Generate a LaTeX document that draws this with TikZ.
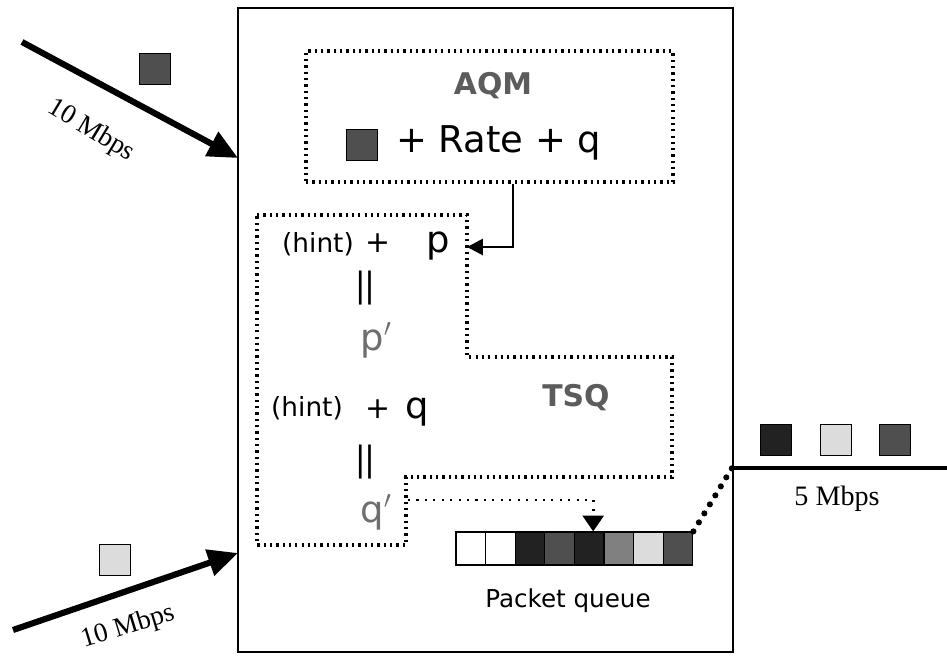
\documentclass[tikz,border=0pt]{standalone}
\usepackage{fontspec}
\setmainfont{Liberation Serif}
\newfontfamily\comicfont{DejaVu Sans}
\newfontfamily\barfont{Liberation Sans}
\usetikzlibrary{arrows.meta,positioning}

\definecolor{pktdark}{HTML}{222222}
\definecolor{pktmid}{HTML}{4F4F4F}
\definecolor{pktgray}{HTML}{808080}
\definecolor{pktlight}{HTML}{DCDCDC}
\definecolor{labelgray}{HTML}{5C5C5C}
\definecolor{primegray}{HTML}{6E6E6E}

\tikzset{
  pkt/.style={draw=black, line width=0.7pt, minimum size=0.62cm, inner sep=0pt},
  qcell/.style={draw=black, line width=0.7pt, minimum width=0.592cm, minimum height=0.66cm, inner sep=0pt},
  dotbox/.style={line width=1.8pt, dash pattern=on 1.3pt off 2.3pt},
  inlink/.style={line width=3.5pt, -{Triangle[length=17pt,width=15pt]}},
  rate/.style={font=\fontsize{15.5}{15.5}\selectfont, rotate=#1},
  eq/.style={font=\comicfont\fontsize{17}{17}\selectfont},
  eqbar/.style={font=\barfont\fontsize{21}{21}\selectfont, rotate=90, inner sep=0pt},
}

\begin{document}
\begin{tikzpicture}[x=0.02cm, y=-0.02cm]
    \useasboundingbox (0,0) rectangle (947,656);

    % Router
    \draw[line width=0.9pt] (238,8) rectangle (733,652);

    % Input links
    \coordinate (srcA) at (22,42);
    \coordinate (inA) at (238,158);
    \coordinate (srcB) at (13,630);
    \coordinate (inB) at (238,553);
    \draw[inlink] (srcA) -- (inA);
    \draw[inlink] (srcB) -- (inB);
    \node[pkt, fill=pktmid] (pktA) at (155,69) {};
    \node[pkt, fill=pktlight] (pktB) at (115,560) {};
    \node[rate=-31] (rateA) at (91,131) {10 Mbps};
    \node[rate=17] (rateB) at (128,627) {10 Mbps};

    % AQM
    \node[dotbox, draw, minimum width=7.34cm, minimum height=2.62cm] (aqm) at (489.5,116.5) {};
    \node[font=\comicfont\bfseries\fontsize{17}{17}\selectfont, text=labelgray] (aqmlabel) at (493,86) {AQM};
    \node[pkt, fill=pktmid] (pktC) at (362,145) {};
    \node[eq, font=\comicfont\fontsize{21}{21}\selectfont, anchor=base west, inner sep=0pt] (aqmrow) at (396,152) {+ Rate + q};

    % TSQ
    \draw[dotbox] (257,215) -- (467,215) -- (467,357) -- (672,357) -- (672,477)
        -- (406,477) -- (406,545) -- (257,545) -- cycle;
    \node[font=\comicfont\bfseries\fontsize{17}{17}\selectfont, text=labelgray] (tsqlabel) at (576,398) {TSQ};
    \coordinate (tsqin) at (467,247);
    \draw[line width=1.6pt, -{Triangle[length=9pt,width=9pt]}] ([xshift=0.47cm]aqm.south) |- (tsqin);

    \node[eq, font=\comicfont\fontsize{15}{15}\selectfont, anchor=base, inner sep=0pt] (hintA) at (318,252) {(hint)};
    \node[eq, anchor=base, inner sep=0pt] (plusA) at (378,252) {+};
    \node[eq, font=\comicfont\fontsize{21}{21}\selectfont, anchor=base, inner sep=0pt] (pval) at (438,252) {p};
    \node[eqbar] (eqA) at (368,288) {\scalebox{1.9}[1]{=}};
    \node[eq, font=\comicfont\fontsize{21}{21}\selectfont, text=primegray, anchor=base, inner sep=0pt] (pnew) at (376,350) {p$'$};

    \node[eq, font=\comicfont\fontsize{15}{15}\selectfont, anchor=base, inner sep=0pt] (hintB) at (307,416) {(hint)};
    \node[eq, anchor=base, inner sep=0pt] (plusB) at (378,418) {+};
    \node[eq, font=\comicfont\fontsize{21}{21}\selectfont, anchor=base, inner sep=0pt] (qval) at (417,418) {q};
    \node[eqbar] (eqB) at (368,462) {\scalebox{1.9}[1]{=}};
    \node[eq, font=\comicfont\fontsize{21}{21}\selectfont, text=primegray, anchor=base, inner sep=0pt] (qnew) at (376,522) {q$'$};

    % Packet queue
    \foreach \c [count=\i] in {white,white,pktdark,pktmid,pktdark,pktgray,pktlight,pktmid}
        \node[qcell, fill=\c] (cell\i) at ({456+14.8+(\i-1)*29.6},548.5) {};
    \node[font=\comicfont\fontsize{14}{14}\selectfont] (qlabel) at (568,601) {Packet queue};

    \coordinate (qout) at (408,500);
    \draw[line width=1.5pt, dash pattern=on 1.2pt off 3.6pt, -{Triangle[length=9pt,width=12pt]}]
        (qout) -| ([xshift=0.08cm]cell5.north);

    % Output link
    \coordinate (outjoin) at (732,468);
    \coordinate (outend) at (947,468);
    \draw[line width=3.5pt, line cap=round, dash pattern=on 0pt off 6pt] (cell8.north east) -- (outjoin);
    \draw[line width=2pt] (outjoin) -- (outend);
    \node[pkt, fill=pktdark] (pktD) at (776,440) {};
    \node[pkt, fill=pktlight] (pktE) at (836,440) {};
    \node[pkt, fill=pktmid] (pktF) at (895,440) {};
    \node[font=\fontsize{16}{16}\selectfont] (rateC) at (837,499) {5 Mbps};
\end{tikzpicture}
\end{document}
